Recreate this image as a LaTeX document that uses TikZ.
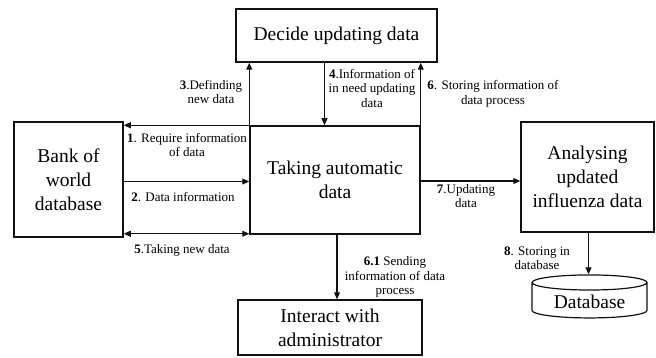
\documentclass[tikz,border=0pt]{standalone}
\usepackage{fontspec}
\setmainfont{Liberation Serif}
\usepackage{tikz}
\usetikzlibrary{arrows.meta,positioning,shapes.geometric,calc}
\definecolor{ink}{HTML}{111111}
\tikzset{
  procbox/.style={
    rectangle, draw=ink, line width=1.5pt, fill=white,
    font=\fontsize{19.5}{24}\selectfont, align=center,
    inner sep=2pt
  },
  dbcyl/.style={
    cylinder, shape border rotate=90, aspect=0.2,
    draw=ink, line width=1.2pt, fill=white,
    font=\fontsize{19.5}{24}\selectfont, inner sep=2pt
  },
  flowarrow/.style={
    -{Triangle[length=7pt,width=6pt]}, line width=1.1pt, color=ink
  },
  steplabel/.style={
    font=\fontsize{13}{14.5}\selectfont, align=center, inner sep=0pt
  },
}
\begin{document}
\begin{tikzpicture}[x=1pt, y=-1pt]
\useasboundingbox (0,0) rectangle (656,358);
% processes
\node[procbox, minimum width=201pt, minimum height=53pt] (decide) at (336.5,35.5) {Decide updating data};
\node[procbox, minimum width=170pt, minimum height=108pt] (take) at (335,180) {Taking automatic\\data};
\node[procbox, minimum width=109pt, minimum height=115pt] (bank) at (68.5,179.5) {Bank of\\world\\database};
\node[procbox, minimum width=133pt, minimum height=110pt] (analyse) at (587.5,177) {Analysing\\updated\\influenza data};
\node[procbox, minimum width=184pt, minimum height=55pt] (admin) at (330,327.5) {Interact with\\administrator};
\node[dbcyl, minimum width=115pt, minimum height=43pt] (db) at (589.5,301.5) {Database};
% flows
\draw[flowarrow] (take.north east) -- (take.north east -| bank.east);
\draw[flowarrow] ([yshift=-2pt]bank.east) -- ([yshift=-2pt]bank.east -| take.west);
\draw[flowarrow] (take.north west) -- (take.north west |- decide.south);
\draw[flowarrow] ([xshift=-12pt]decide.south) -- ([xshift=-12pt]decide.south |- take.north);
\draw[flowarrow, {Triangle[length=7pt,width=6pt]}-{Triangle[length=7pt,width=6pt]}] ([yshift=1pt]take.south west -| bank.east) -- ([yshift=1pt]take.south west);
\draw[flowarrow] (take.north east) -- (take.north east |- decide.south);
\draw[flowarrow] ([xshift=2pt]take.south) -- ([xshift=2pt]take.south |- admin.north);
\draw[flowarrow] ([yshift=-1pt]take.east) -- ([yshift=-1pt]take.east -| analyse.west);
\draw[flowarrow] ([xshift=1pt]analyse.south) -- ([xshift=1pt]analyse.south |- db.north);
% labels
\node[steplabel] (l1) at (187,145) {\textbf{1}. Require information\\of data};
\node[steplabel] (l2) at (183,197) {\textbf{2}. Data information};
\node[steplabel] (l3) at (211,92) {\textbf{3}.Definding\\new data};
\node[steplabel] (l4) at (372,88) {\textbf{4}.Information of\\in need updating\\data};
\node[steplabel] (l5) at (182,250) {\textbf{5}.Taking new data};
\node[steplabel] (l6) at (493,94) {\textbf{6}. Storing information of\\data process};
\node[steplabel] (l61) at (395,277) {\textbf{6.1} Sending\\information of data\\process};
\node[steplabel] (l7) at (466,196) {\textbf{7}.Updating\\data};
\node[steplabel] (l8) at (537,258) {\textbf{8}. Storing in\\database};
\end{tikzpicture}
\end{document}
